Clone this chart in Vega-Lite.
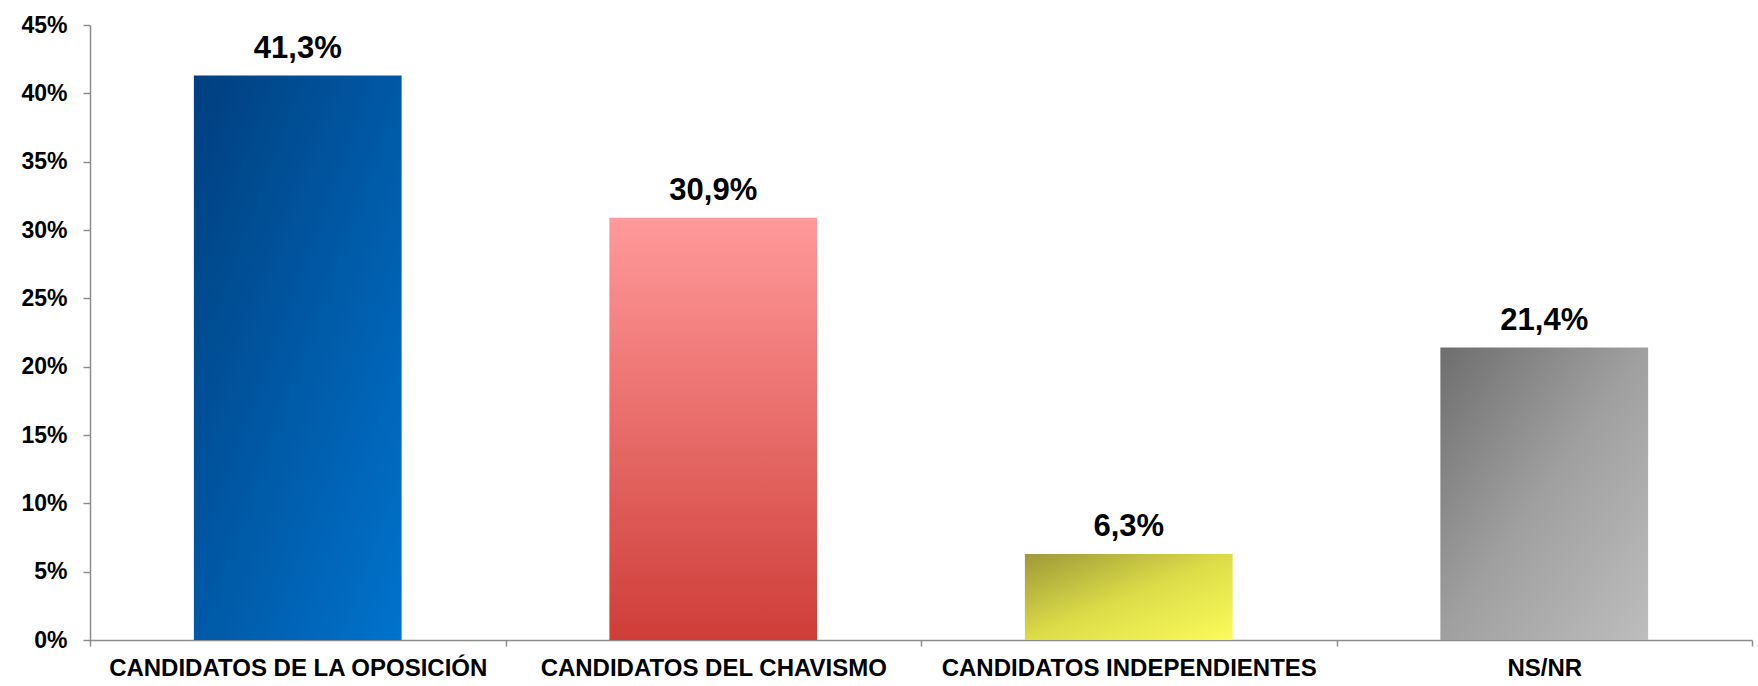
{
  "$schema": "https://vega.github.io/schema/vega-lite/v6.json",
  "autosize": {"type": "none"},
  "width": 1662,
  "height": 615,
  "padding": {"left": 90, "top": 25, "right": 6, "bottom": 46},
  "background": "white",
  "config": {
    "view": {"stroke": null},
    "locale": {"number": {"decimal": ",", "thousands": ".", "grouping": [3], "currency": ["", " €"]}},
    "font": "Liberation Sans"
  },
  "data": {
    "values": [
      {"categoria": "CANDIDATOS DE LA OPOSICIÓN", "valor": 0.413},
      {"categoria": "CANDIDATOS DEL CHAVISMO", "valor": 0.309},
      {"categoria": "CANDIDATOS INDEPENDIENTES", "valor": 0.063},
      {"categoria": "NS/NR", "valor": 0.214}
    ]
  },
  "encoding": {
    "x": {
      "field": "categoria",
      "type": "nominal",
      "sort": null,
      "scale": {"paddingInner": 0, "paddingOuter": 0},
      "axis": {
        "title": null,
        "labelAngle": 0,
        "labelLimit": 0,
        "labelFont": "Liberation Sans",
        "labelFontSize": 24,
        "labelFontWeight": "bold",
        "labelColor": "black",
        "labelPadding": 10,
        "labelBaseline": "top",
        "tickBand": "extent",
        "tickSize": 6,
        "tickColor": "#8c8c8c",
        "tickWidth": 1.5,
        "domainColor": "#8c8c8c",
        "domainWidth": 1.5,
        "grid": false
      }
    },
    "y": {
      "field": "valor",
      "type": "quantitative",
      "scale": {"domain": [0, 0.45], "nice": false},
      "axis": {
        "title": null,
        "format": ".0%",
        "values": [0, 0.05, 0.1, 0.15, 0.2, 0.25, 0.3, 0.35, 0.4, 0.45],
        "labelFont": "Liberation Sans",
        "labelFontSize": 23,
        "labelFontWeight": "bold",
        "labelColor": "black",
        "labelPadding": 16,
        "tickSize": 7,
        "tickColor": "#8c8c8c",
        "tickWidth": 1.5,
        "domainColor": "#8c8c8c",
        "domainWidth": 1.5,
        "grid": false
      }
    }
  },
  "layer": [
    {
      "mark": {"type": "bar", "width": {"band": 0.5}},
      "encoding": {
        "color": {
          "condition": [
            {
              "test": "datum.categoria === 'CANDIDATOS DE LA OPOSICIÓN'",
              "value": {"gradient": "linear", "x1": 0, "y1": 0, "x2": 1, "y2": 1, "stops": [{"offset": 0, "color": "#003f7e"}, {"offset": 1, "color": "#0073cd"}]}
            },
            {
              "test": "datum.categoria === 'CANDIDATOS DEL CHAVISMO'",
              "value": {"gradient": "linear", "x1": 0, "y1": 0, "x2": 0, "y2": 1, "stops": [{"offset": 0, "color": "#ff9a9a"}, {"offset": 1, "color": "#cf3d38"}]}
            },
            {
              "test": "datum.categoria === 'CANDIDATOS INDEPENDIENTES'",
              "value": {"gradient": "linear", "x1": 0, "y1": 0, "x2": 1, "y2": 1, "stops": [{"offset": 0, "color": "#9e9838"}, {"offset": 0.5, "color": "#dcdc48"}, {"offset": 1, "color": "#fbfb5c"}]}
            }
          ],
          "value": {"gradient": "linear", "x1": 0, "y1": 0, "x2": 1, "y2": 1, "stops": [{"offset": 0, "color": "#6e6e6e"}, {"offset": 0.5, "color": "#a0a0a0"}, {"offset": 1, "color": "#bdbdbd"}]}
        }
      }
    },
    {
      "mark": {"type": "text", "baseline": "alphabetic", "dy": -18, "fontSize": 31, "fontWeight": "bold", "font": "Liberation Sans", "color": "black"},
      "encoding": {
        "text": {"field": "valor", "type": "quantitative", "format": ".1%"}
      }
    }
  ]
}
